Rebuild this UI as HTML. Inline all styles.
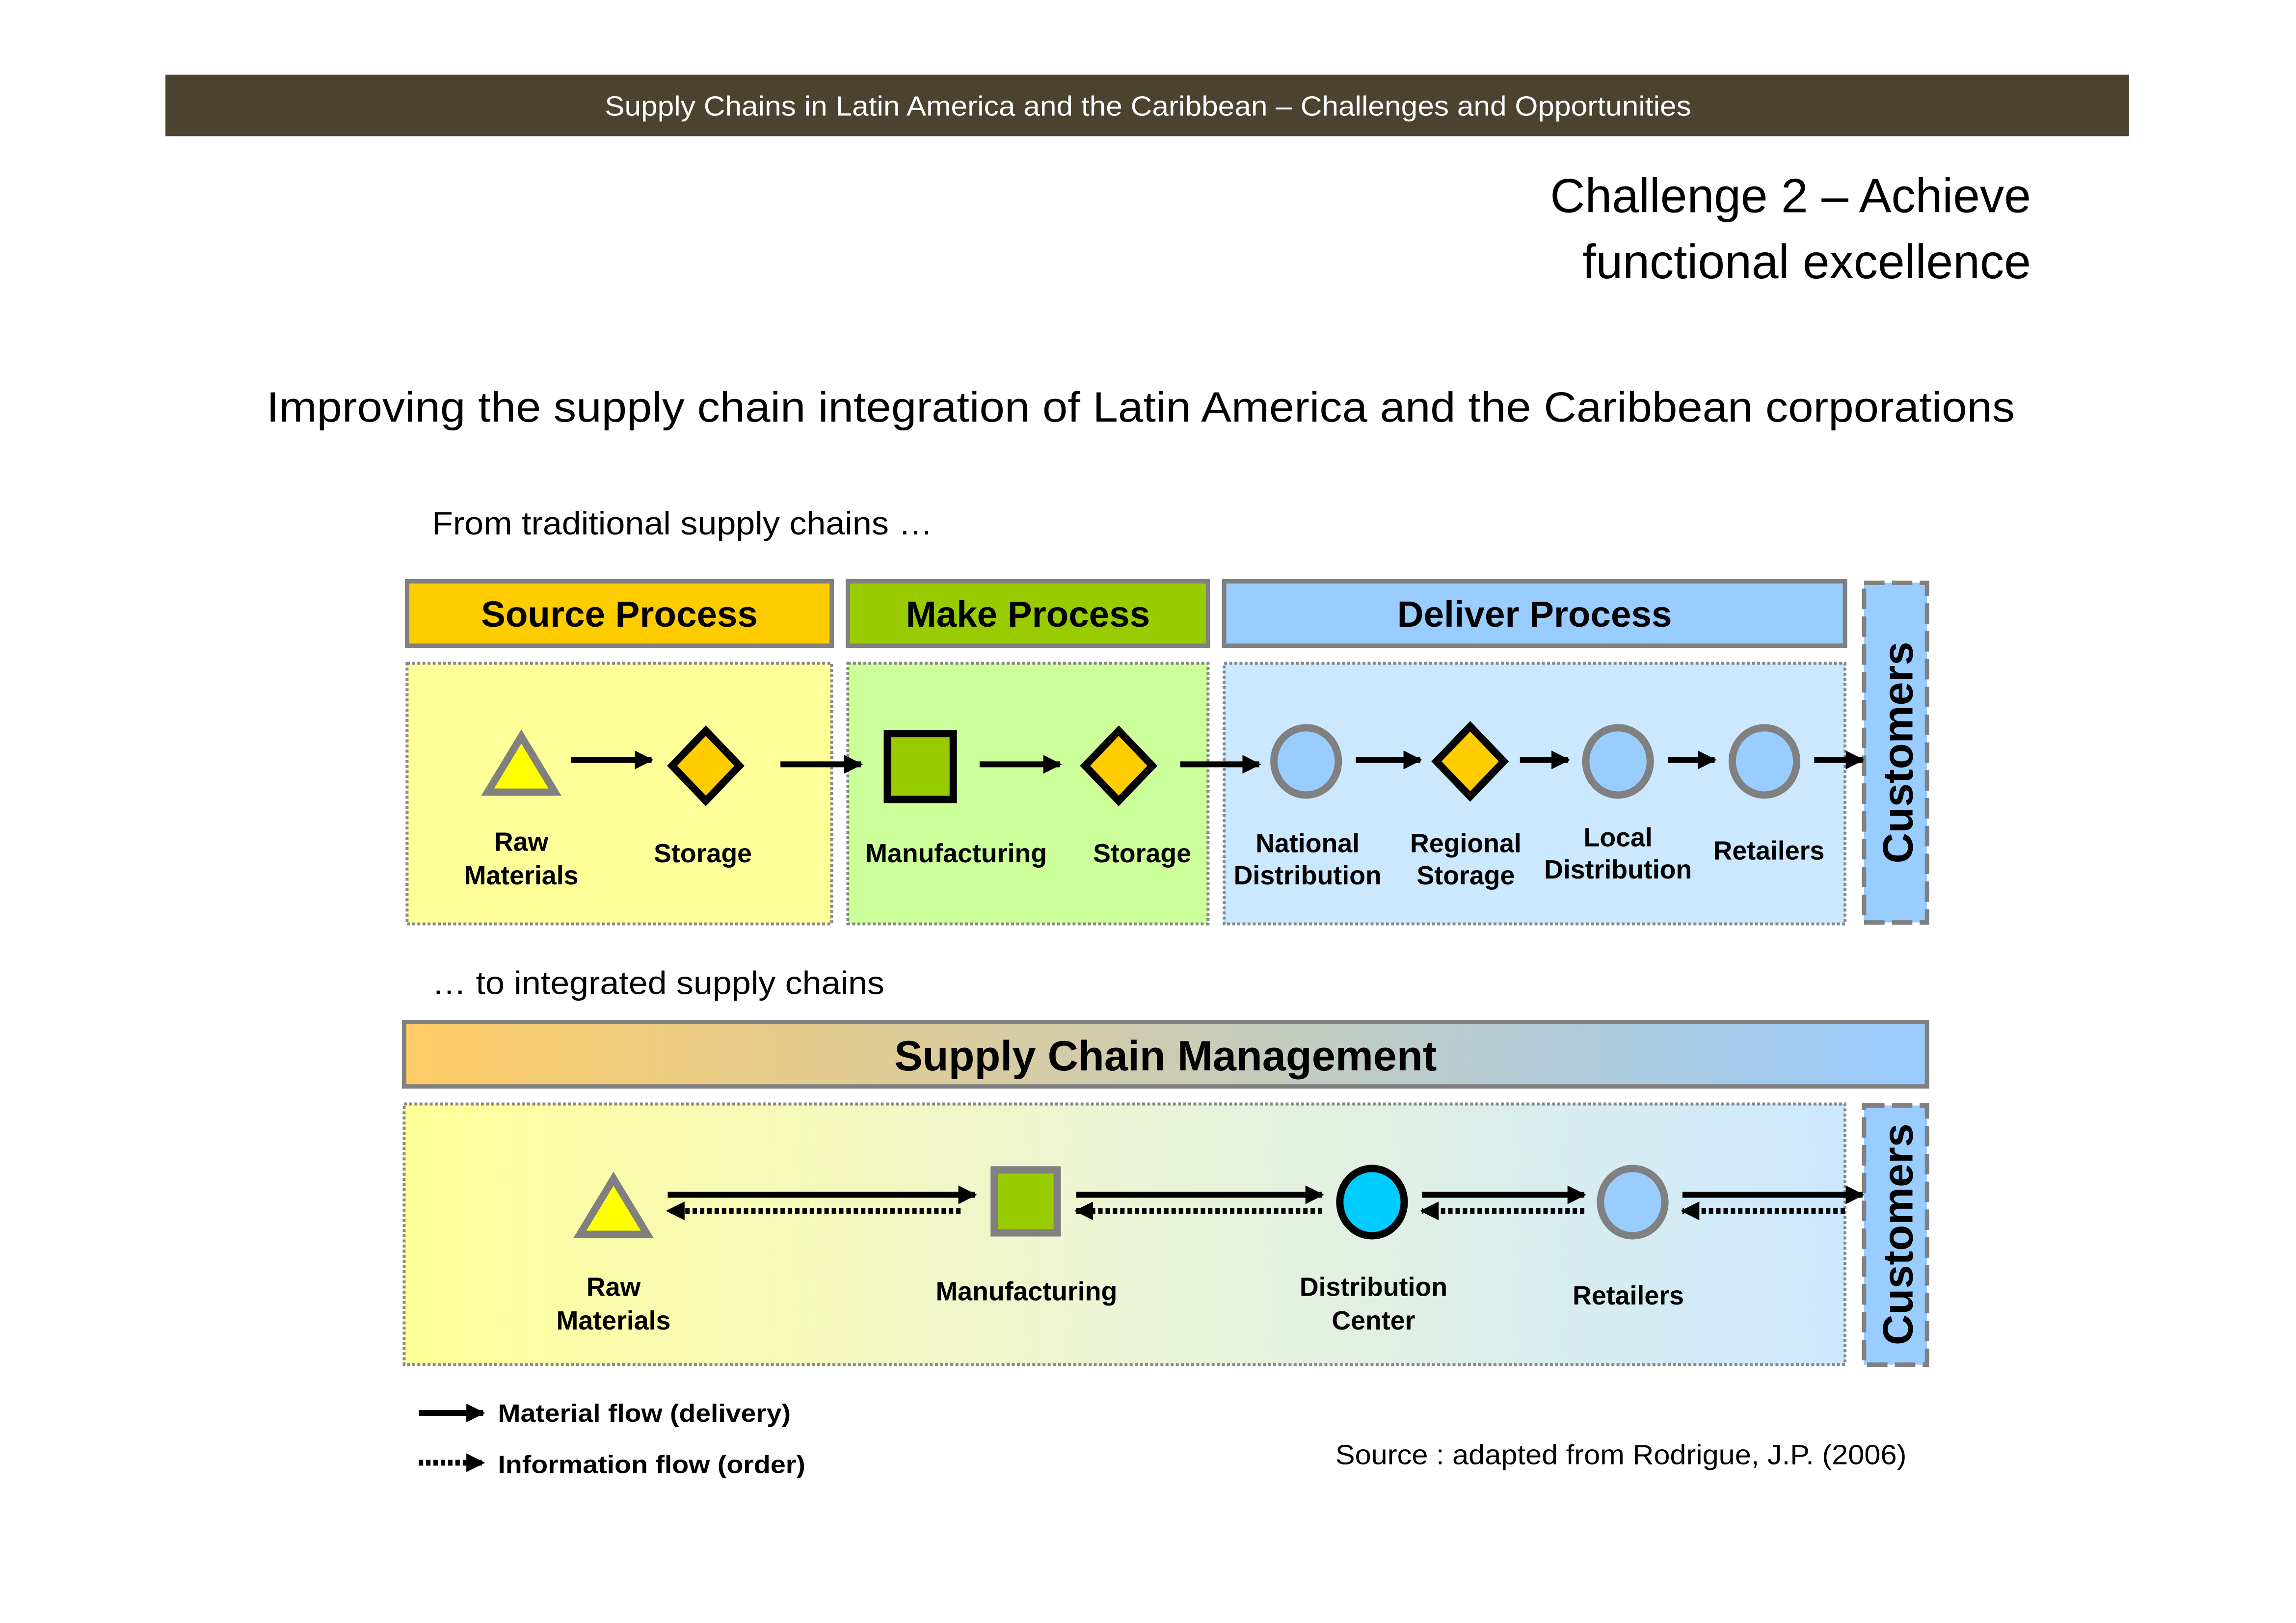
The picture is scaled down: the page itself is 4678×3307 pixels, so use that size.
<!DOCTYPE html>
<html><head><meta charset="utf-8"><style>html,body{margin:0;padding:0;background:#fff}svg{display:block}</style></head><body>
<svg width="4678" height="3307" viewBox="0 0 1568 1108.45" xmlns="http://www.w3.org/2000/svg" font-family="Liberation Sans, sans-serif">
<defs>
<marker id="ah" viewBox="0 0 10 10" refX="9" refY="5" markerWidth="3.2" markerHeight="3.2" orient="auto" markerUnits="strokeWidth"><path d="M0,0 L10,5 L0,10 z" fill="#000"/></marker>
<linearGradient id="g1" x1="0" x2="1" y1="0" y2="0"><stop offset="0" stop-color="#ffcc66"/><stop offset="1" stop-color="#99ccff"/></linearGradient>
<linearGradient id="g2" x1="0" x2="1" y1="0" y2="0"><stop offset="0" stop-color="#ffff99"/><stop offset="0.45" stop-color="#eef5d0"/><stop offset="1" stop-color="#cce8ff"/></linearGradient>
</defs>
<rect x="113" y="51" width="1341" height="42" fill="#4b4330"/>
<text x="413" y="79" fill="#fff" font-size="19" textLength="742" lengthAdjust="spacingAndGlyphs">Supply Chains in Latin America and the Caribbean – Challenges  and Opportunities</text>
<text x="1387" y="145" font-size="33" text-anchor="end">Challenge  2 – Achieve</text>
<text x="1387" y="190" font-size="33" text-anchor="end">functional excellence</text>
<text x="182" y="288" font-size="29" textLength="1194" lengthAdjust="spacingAndGlyphs">Improving the supply chain integration of Latin America and the Caribbean corporations</text>
<text x="295" y="365" font-size="22" textLength="342" lengthAdjust="spacingAndGlyphs">From traditional supply chains …</text>
<text x="295" y="679" font-size="22" textLength="309" lengthAdjust="spacingAndGlyphs">… to integrated supply chains</text>

<g stroke="#808080" stroke-width="3">
<rect x="278" y="397" width="290" height="44" fill="#ffcc00"/>
<rect x="579" y="397" width="246" height="44" fill="#99cc00"/>
<rect x="836" y="397" width="424" height="44" fill="#99ccff"/>
<rect x="276" y="698" width="1040" height="44" fill="url(#g1)"/>
</g>
<g font-size="25" font-weight="bold" text-anchor="middle">
<text x="423" y="428">Source Process</text>
<text x="702" y="428">Make Process</text>
<text x="1048" y="428">Deliver Process</text>
<text x="796" y="731" font-size="29">Supply Chain  Management</text>
</g>
<g stroke="#888" stroke-width="2" stroke-dasharray="2,1.5">
<rect x="278" y="453" width="290" height="178" fill="#ffff99"/>
<rect x="579" y="453" width="246" height="178" fill="#ccff99"/>
<rect x="836" y="453" width="424" height="178" fill="#cce8ff"/>
<rect x="276" y="754" width="984" height="178" fill="url(#g2)"/>
</g>
<g stroke="#808080" stroke-width="3" stroke-dasharray="14,5" fill="#99ccff">
<rect x="1273" y="398" width="43" height="232"/>
<rect x="1273" y="755" width="43" height="177"/>
</g>
<g font-size="29" font-weight="bold" text-anchor="middle">
<text transform="translate(1306,514) rotate(-90)">Customers</text>
<text transform="translate(1306,843) rotate(-90)">Customers</text>
</g>

<polygon points="356,503 333,541 379,541" fill="#ffff00" stroke="#808080" stroke-width="5"/>
<polygon points="482,499 505,523 482,547 459,523" fill="#ffcc00" stroke="#000" stroke-width="5"/>
<rect x="606" y="501" width="45" height="45" fill="#99cc00" stroke="#000" stroke-width="5"/>
<polygon points="764,499 787,523 764,547 741,523" fill="#ffcc00" stroke="#000" stroke-width="5"/>
<ellipse cx="892" cy="520" rx="22" ry="23" fill="#99ccff" stroke="#808080" stroke-width="5"/>
<polygon points="1004,496 1027,520 1004,544 981,520" fill="#ffcc00" stroke="#000" stroke-width="5"/>
<ellipse cx="1105" cy="520" rx="22" ry="23" fill="#99ccff" stroke="#808080" stroke-width="5"/>
<ellipse cx="1205" cy="520" rx="22" ry="23" fill="#99ccff" stroke="#808080" stroke-width="5"/>
<g stroke="#000" stroke-width="4" marker-end="url(#ah)">
<line x1="390" y1="519" x2="445" y2="519"/>
<line x1="533" y1="522" x2="588" y2="522"/>
<line x1="669" y1="522" x2="724" y2="522"/>
<line x1="806" y1="522" x2="860" y2="522"/>
<line x1="926" y1="519" x2="970" y2="519"/>
<line x1="1038" y1="519" x2="1071" y2="519"/>
<line x1="1139" y1="519" x2="1171" y2="519"/>
<line x1="1239" y1="519" x2="1272" y2="519"/>
</g>
<g font-size="18" font-weight="bold" text-anchor="middle">
<text x="356" y="581">Raw</text><text x="356" y="604">Materials</text>
<text x="480" y="589">Storage</text>
<text x="653" y="589">Manufacturing</text>
<text x="780" y="589">Storage</text>
<text x="893" y="582">National</text><text x="893" y="604">Distribution</text>
<text x="1001" y="582">Regional</text><text x="1001" y="604">Storage</text>
<text x="1105" y="578">Local</text><text x="1105" y="600">Distribution</text>
<text x="1208" y="587">Retailers</text>
</g>

<polygon points="419,805 396,843 442,843" fill="#ffff00" stroke="#808080" stroke-width="5"/>
<rect x="679" y="799" width="43" height="43" fill="#99cc00" stroke="#808080" stroke-width="5"/>
<ellipse cx="937" cy="821" rx="22" ry="23" fill="#00ccff" stroke="#000" stroke-width="5"/>
<ellipse cx="1115" cy="821" rx="22" ry="23" fill="#99ccff" stroke="#808080" stroke-width="5"/>
<g stroke="#000" stroke-width="4" marker-end="url(#ah)">
<line x1="456" y1="816" x2="666" y2="816"/>
<line x1="735" y1="816" x2="903" y2="816"/>
<line x1="971" y1="816" x2="1082" y2="816"/>
<line x1="1149" y1="816" x2="1272" y2="816"/>
<line x1="286" y1="965" x2="330" y2="965"/>
</g>
<g stroke="#000" stroke-width="4" stroke-dasharray="3,2" marker-end="url(#ah)">
<line x1="656" y1="827" x2="456" y2="827"/>
<line x1="903" y1="827" x2="735" y2="827"/>
<line x1="1082" y1="827" x2="971" y2="827"/>
<line x1="1260" y1="827" x2="1149" y2="827"/>
<line x1="286" y1="999" x2="330" y2="999"/>
</g>
<g font-size="18" font-weight="bold" text-anchor="middle">
<text x="419" y="885">Raw</text><text x="419" y="908">Materials</text>
<text x="701" y="888">Manufacturing</text>
<text x="938" y="885">Distribution</text><text x="938" y="908">Center</text>
<text x="1112" y="891">Retailers</text>
</g>
<g font-size="17" font-weight="bold">
<text x="340" y="971" textLength="200" lengthAdjust="spacingAndGlyphs">Material flow (delivery)</text>
<text x="340" y="1006" textLength="210" lengthAdjust="spacingAndGlyphs">Information flow (order)</text>
</g>
<text x="912" y="1000" font-size="19" textLength="390" lengthAdjust="spacingAndGlyphs">Source : adapted from Rodrigue, J.P. (2006)</text>
</svg>
</body></html>
